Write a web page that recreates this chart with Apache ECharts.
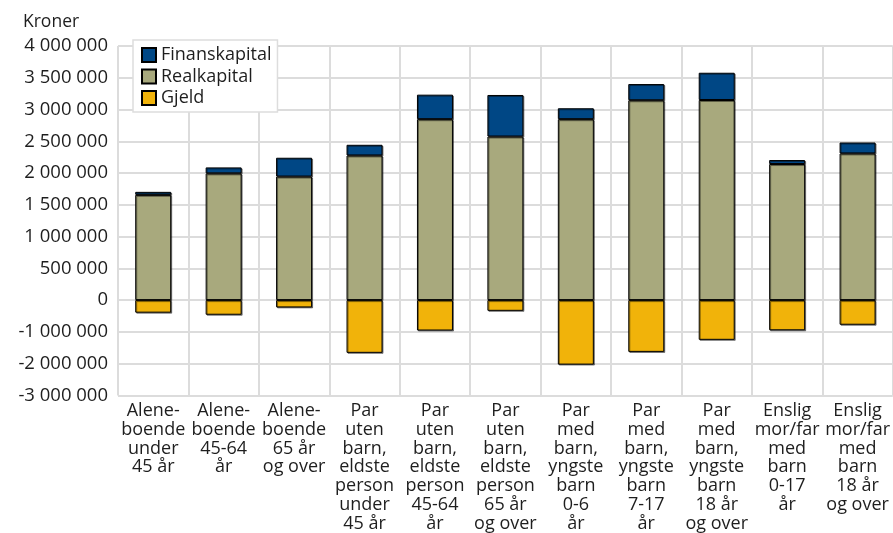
<!DOCTYPE html>
<html>
<head>
<meta charset="utf-8">
<script src="https://cdn.jsdelivr.net/npm/echarts@6/dist/echarts.min.js"></script>
<style>
  html, body { margin: 0; padding: 0; background: #fff; }
  #chart { width: 893px; height: 533px; }
</style>
</head>
<body>
<div id="chart"></div>
<script>
// Household groups
const categories = [
  'Alene-\nboende\nunder\n45 år',
  'Alene-\nboende\n45-64\når',
  'Alene-\nboende\n65 år\nog over',
  'Par\nuten\nbarn,\neldste\nperson\nunder\n45 år',
  'Par\nuten\nbarn,\neldste\nperson\n45-64\når',
  'Par\nuten\nbarn,\neldste\nperson\n65 år\nog over',
  'Par\nmed\nbarn,\nyngste\nbarn\n0-6\når',
  'Par\nmed\nbarn,\nyngste\nbarn\n7-17\når',
  'Par\nmed\nbarn,\nyngste\nbarn\n18 år\nog over',
  'Enslig\nmor/far\nmed\nbarn\n0-17\når',
  'Enslig\nmor/far\nmed\nbarn\n18 år\nog over'
];

// Kroner per household
const realkapital   = [1657000, 1995000, 1945000, 2277000, 2848000, 2575000, 2848000, 3146000, 3150000, 2142000, 2309000];
const finanskapital = [  47000,   94000,  296000,  168000,  386000,  654000,  172000,  255000,  429000,   63000,  172000];
const gjeld         = [-395000, -460000, -230000, -1660000, -957000, -337000, -2030000, -1630000, -1250000, -950000, -775000];

// Axis tick labels (kroner); the part below zero is drawn at half scale
const yTickLabels = ['4 000 000', '3 500 000', '3 000 000', '2 500 000', '2 000 000', '1 500 000',
  '1 000 000', '500 000', '0', '-1 000 000', '-2 000 000', '-3 000 000'];

const NEG_SCALE = 0.5;
const fmt = v => {
  const real = v < 0 ? v / NEG_SCALE : v;
  const s = Math.round(Math.abs(real)).toString().replace(/\B(?=(\d{3})+(?!\d))/g, ' ');
  return (real < 0 ? '-' : '') + s;
};

const FONT = 'Open Sans';
const TXT = '#1e1e1e';
const GRID = '#dcdcdc';

const barStyle = color => ({
  color: color,
  borderColor: '#000',
  borderWidth: 1,
  shadowColor: 'rgba(0,0,0,0.45)',
  shadowOffsetX: 1,
  shadowOffsetY: 1
});

const chart = echarts.init(document.getElementById('chart'), null, { renderer: 'canvas' });
chart.setOption({
  animation: false,
  backgroundColor: '#fff',
  textStyle: { fontFamily: FONT, color: TXT },
  title: {
    text: 'Kroner',
    left: 18, top: 8,
    textStyle: { fontFamily: FONT, fontSize: 17.5, fontWeight: 'normal', color: TXT }
  },
  legend: {
    data: ['Finanskapital', 'Realkapital', 'Gjeld'],
    orient: 'vertical',
    icon: 'rect',
    left: 133, top: 40,
    itemWidth: 14, itemHeight: 14,
    itemGap: 3.5,
    padding: [6, 6, 5, 8],
    backgroundColor: '#fff',
    borderColor: '#dddddd',
    borderWidth: 1.5,
    borderRadius: 0,
    textStyle: { fontFamily: FONT, fontSize: 18, color: TXT }
  },
  grid: { left: 118, right: 0, top: 46, bottom: 137, containLabel: false },
  xAxis: {
    type: 'category',
    data: categories,
    boundaryGap: true,
    axisLine: { show: false, onZero: false },
    axisTick: { show: false },
    splitLine: { show: true, lineStyle: { color: GRID, width: 2 } },
    axisLabel: {
      interval: 0, margin: 6,
      fontFamily: FONT, fontSize: 18, color: TXT, lineHeight: 18.8
    }
  },
  yAxis: {
    type: 'value',
    min: -1500000, max: 4000000, interval: 500000,
    axisLine: { show: false },
    axisTick: { show: false },
    splitLine: { show: true, lineStyle: { color: GRID, width: 2 } },
    axisLabel: {
      margin: 10,
      fontFamily: FONT, fontSize: 18.5, color: TXT,
      formatter: v => {
        const s = fmt(v);
        return yTickLabels.includes(s) ? s : '';
      }
    }
  },
  series: [
    {
      name: 'Realkapital', type: 'bar', stack: 'formue', barWidth: 36,
      data: realkapital, itemStyle: barStyle('#a8a97d')
    },
    {
      name: 'Finanskapital', type: 'bar', stack: 'formue', barWidth: 36,
      data: finanskapital, itemStyle: barStyle('#004785')
    },
    {
      name: 'Gjeld', type: 'bar', stack: 'formue', barWidth: 36,
      data: gjeld.map(v => v * NEG_SCALE), itemStyle: barStyle('#f1b30a')
    }
  ]
});
</script>
</body>
</html>
